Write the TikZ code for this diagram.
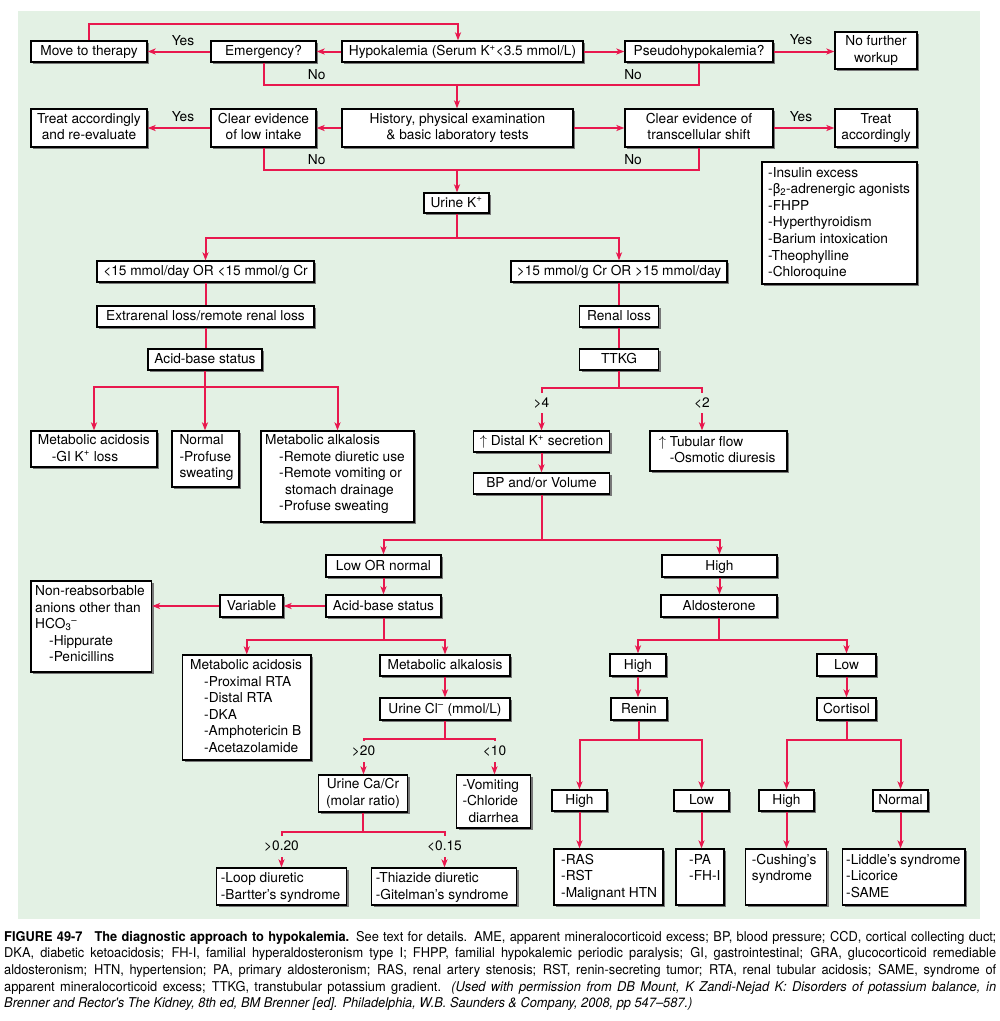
\documentclass[tikz,border=0pt]{standalone}
\usepackage{fontspec}
\setmainfont{TeX Gyre Heros}
\newfontfamily\capfont[FakeStretch=0.95]{TeX Gyre Heros}
\usetikzlibrary{arrows.meta,shadows,calc}
\definecolor{redl}{RGB}{232,24,78}
\definecolor{bgg}{RGB}{227,241,228}
\definecolor{shd}{RGB}{120,120,120}
\tikzset{
  box/.style={draw=black, line width=1.2pt, fill=white, inner sep=0pt,
    drop shadow={shadow xshift=2pt, shadow yshift=-2pt, fill=shd, opacity=1}},
  lbl/.style={inner sep=0pt, text height=10pt, text depth=2pt},
  lst/.style={inner sep=0pt, anchor=base west},
  con/.style={draw=redl, line width=2pt},
  arr/.style={con, -{Stealth[length=8pt,width=6pt,inset=2pt]}},
}
\newcommand\bx[7][]{\node[box,#1,minimum width={#5-#3},minimum height={#6-#4}] (#2) at ({(#3+#5)/2},{(#4+#6)/2}) {#7};}
\newcommand\ctab[1]{\raisebox{-1.5pt}{\begin{tabular}{@{}c@{}}#1\end{tabular}}}
\newcommand\ltab[1]{\begin{tabular}[t]{@{}l@{}}#1\end{tabular}}
\newcommand\ind{\hspace*{14pt}}
\begin{document}
\begin{tikzpicture}[x=1pt,y=-1pt,font=\fontsize{13.7}{16.6}\selectfont]
\useasboundingbox (0,0) rectangle (1000,1021);
\fill[bgg] (18,11) rectangle (980,919);
% row 1
\bx[lbl]{mt}{31}{41}{147}{62}{Move to therapy}
\bx[lbl]{em}{211}{41}{316}{62}{Emergency?}
\bx[lbl]{hk}{342}{41}{583}{62}{Hypokalemia (Serum K\textsuperscript{+}<3.5 mmol/L)}
\bx[lbl]{ps}{625}{41}{773}{62}{Pseudohypokalemia?}
\bx{nf}{835}{32}{917}{69}{\ctab{No further\\workup}}
% row 2
\bx{ta}{31}{109}{147}{147}{\ctab{Treat accordingly\\and re-evaluate}}
\bx{li}{211}{109}{316}{147}{\ctab{Clear evidence\\of low intake}}
\bx{hi}{342}{109}{573}{147}{\ctab{History, physical examination\\\& basic laboratory tests}}
\bx{ts}{625}{109}{773}{147}{\ctab{Clear evidence of\\transcellular shift}}
\bx{tr}{835}{109}{917}{147}{\ctab{Treat\\accordingly}}
\bx[lbl]{uk}{424}{193}{489}{213}{Urine K\textsuperscript{+}}
\bx{ins}{762}{162}{917}{284}{}
\node[lst] (inst) at (768,177) {\ltab{-Insulin excess\\-β\textsubscript{2}-adrenergic agonists\\-FHPP\\-Hyperthyroidism\\-Barium intoxication\\-Theophylline\\-Chloroquine}};
% left branch
\bx[lbl]{lt}{97}{261}{314}{282}{<15 mmol/day OR <15 mmol/g Cr}
\bx[lbl]{gt}{511}{261}{727}{282}{>15 mmol/g Cr OR >15 mmol/day}
\bx[lbl]{ex}{97}{306}{314}{327}{Extrarenal loss/remote renal loss}
\bx[lbl]{ab1}{148}{349}{262}{370}{Acid-base status}
\bx{ma1}{31}{431}{157}{467}{}
\node[lst] (ma1t) at (37.7,444.5) {\ltab{Metabolic acidosis\\\ind-GI K\textsuperscript{+} loss}};
\bx{nm}{172}{431}{239}{487}{}
\node[lst] (nmt) at (179.3,444.5) {\ltab{Normal\\-Profuse\\sweating}};
\bx{mk1}{261}{431}{414}{522}{}
\node[lst] (mk1t) at (265,444.5) {\ltab{Metabolic alkalosis\\\ind-Remote diuretic use\\\ind-Remote vomiting or\\\hspace*{20pt}stomach drainage\\\ind-Profuse sweating}};
% right branch
\bx[lbl]{rl}{579.5}{306}{658.5}{327}{Renal loss}
\bx[lbl]{tt}{579.5}{349}{658.5}{370}{TTKG}
\bx[lbl]{dk}{473.5}{431}{609.5}{452}{$\uparrow$ Distal K\textsuperscript{+} secretion}
\bx{tf}{650}{431}{787}{471}{}
\node[lst] (tft) at (658.7,446) {\ltab{$\uparrow$ Tubular flow\\\hspace*{11pt}-Osmotic diuresis}};
\bx[lbl]{bp}{473.5}{473}{609.5}{494}{BP and/or Volume}
% low or normal
\bx[lbl]{lo}{326}{555}{441}{577}{Low OR normal}
\bx[lbl]{ab2}{326}{595}{441}{617}{Acid-base status}
\bx[lbl]{va}{220}{595}{283}{617}{Variable}
\bx{nr}{31}{581}{151.5}{672}{}
\node[lst] (nrt) at (35,595.5) {\ltab{Non-reabsorbable\\anions other than\\HCO\textsubscript{3}\textsuperscript{–}\\\ind-Hippurate\\\ind-Penicillins}};
\bx{md}{182.5}{655}{311}{760}{}
\node[lst] (mdt) at (190,669.5) {\ltab{Metabolic acidosis\\\ind-Proximal RTA\\\ind-Distal RTA\\\ind-DKA\\\ind-Amphotericin B\\\ind-Acetazolamide}};
\bx[lbl]{mk2}{380}{655}{510}{676}{Metabolic alkalosis}
\bx[lbl]{uc}{380}{698}{510}{720}{Urine Cl\textsuperscript{–} (mmol/L)}
\bx{cc}{318.5}{775}{407.5}{812}{\ctab{Urine Ca/Cr\\(molar ratio)}}
\bx{vo}{456.5}{775}{530.5}{828}{}
\node[lst] (vot) at (462.3,789) {\ltab{-Vomiting\\-Chloride\\\hspace*{6pt}diarrhea}};
\bx{lp}{216.5}{868}{346.5}{905}{}
\node[lst] (lpt) at (220.7,882.5) {\ltab{-Loop diuretic\\-Bartter's syndrome}};
\bx{th}{371.5}{868}{516.5}{905}{}
\node[lst] (tht) at (375.7,882.5) {\ltab{-Thiazide diuretic\\-Gitelman's syndrome}};
% high
\bx[lbl]{h1}{662}{555}{777}{577}{High}
\bx[lbl]{al}{661}{595}{777}{617}{Aldosterone}
\bx[lbl]{h2}{610}{654}{666}{676}{High}
\bx[lbl]{lw}{817}{654}{876}{676}{Low}
\bx[lbl]{rn}{611}{698}{667}{720}{Renin}
\bx[lbl]{co}{817}{698}{876}{720}{Cortisol}
\bx[lbl]{h3}{552}{790}{607}{811}{High}
\bx[lbl]{l2}{674}{790}{729}{811}{Low}
\bx[lbl]{h4}{759}{790}{814}{811}{High}
\bx[lbl]{nl}{873}{790}{928}{811}{Normal}
\bx{ra}{554}{849}{663}{905}{}
\node[lst] (rat) at (561,864) {\ltab{-RAS\\-RST\\-Malignant HTN}};
\bx{pa}{676}{849}{724}{905}{}
\node[lst] (pat) at (689,864) {\ltab{-PA\\-FH-I}};
\bx{cu}{745.5}{849}{826.5}{905}{}
\node[lst] (cut) at (751.7,864) {\ltab{-Cushing's\\syndrome}};
\bx{ld}{842.5}{849}{965}{905}{}
\node[lst] (ldt) at (846,864) {\ltab{-Liddle's syndrome\\-Licorice\\-SAME}};
% labels
\node[lbl] (y1) at (183,41) {Yes};
\node[lbl] (y2) at (801,40) {Yes};
\node[lbl] (y3) at (183,117.3) {Yes};
\node[lbl] (y4) at (801,117.3) {Yes};
\node[lbl] (n1) at (316.7,75) {No};
\node[lbl] (n2) at (633,75) {No};
\node[lbl] (n3) at (316.7,160) {No};
\node[lbl] (n4) at (633,160) {No};
\node[lbl] (lg4) at (541.5,403) {>4};
\node[lbl] (ll2) at (702,403) {<2};
\node[lbl] (lg20) at (363.5,751) {>20};
\node[lbl] (ll10) at (494.5,751) {<10};
\node[lbl] (lg02) at (281.5,846) {>0.20};
\node[lbl] (ll015) at (444.5,846) {<0.15};
% connectors row 1
\draw[arr] (hk.west) -- (em.east);
\draw[arr] (em.west) -- (mt.east);
\draw[arr] (hk.east) -- (ps.west);
\draw[arr] (ps.east) -- (ps.east -| nf.west);
\coordinate (c1) at (458,24);
\draw[arr] (mt.north) |- (c1) -- (c1 |- hk.north);
\coordinate (c2) at (457,85);
\draw[con] (em.south) |- (c2) -| (ps.south);
\draw[arr] (c2) -- (c2 |- hi.north);
% row 2
\draw[arr] (hi.west) -- (li.east);
\draw[arr] (li.west) -- (ta.east);
\draw[arr] (hi.east) -- (ts.west);
\draw[arr] (ts.east) -- (tr.west);
\coordinate (c3) at (457,170);
\draw[con] (li.south) |- (c3) -| (ts.south);
\draw[arr] (c3) -- (c3 |- uk.north);
% urine K
\draw[con] (uk.south) -- ++(0,24) coordinate (c4);
\draw[arr] (c4) -| (lt.north);
\draw[arr] (c4) -| (gt.north);
\draw[con] (lt.south) -- (ex.north);
\draw[con] (ex.south) -- (ex.south |- ab1.north);
\draw[con] (ab1.south) -- ++(0,16) coordinate (c5);
\draw[arr] (c5) -| (ma1.north);
\draw[arr] (c5) -- (c5 |- nm.north);
\draw[arr] (c5) -| (mk1.north);
% renal
\draw[con] (gt.south) -- (rl.north);
\draw[con] (rl.south) -- (tt.north);
\draw[con] (tt.south) -- ++(0,17) coordinate (c6);
\coordinate (s4) at (541.5,393);
\coordinate (s2) at (702,393);
\draw[con] (s4) |- (c6) -| (s2);
\coordinate (a4) at (541.5,413);
\coordinate (a2) at (702,413);
\draw[arr] (a4) -- (a4 |- dk.north);
\draw[arr] (a2) -- (a2 |- tf.north);
\draw[arr] (dk.south) -- (bp.north);
\draw[con] (bp.south) -- ++(0,45) coordinate (c7);
\draw[arr] (c7) -| (lo.north);
\draw[arr] (c7) -| (h1.north);
% low or normal
\draw[arr] (lo.south) -- (ab2.north);
\draw[arr] (ab2.west) -- (va.east);
\draw[arr] (va.west) -- (va.west -| nr.east);
\draw[con] (ab2.south) -- ++(0,22) coordinate (c8);
\draw[arr] (c8) -| (md.north);
\draw[arr] (c8) -| (mk2.north);
\draw[arr] (mk2.south) -- (uc.north);
\draw[con] (uc.south) -- ++(0,18) coordinate (c9);
\coordinate (s20) at (363.5,741);
\coordinate (s10) at (494.5,741);
\draw[con] (s20) |- (c9) -| (s10);
\coordinate (a20) at (363.5,762);
\coordinate (a10) at (494.5,762);
\draw[arr] (a20) -- (a20 |- cc.north);
\draw[arr] (a10) -- (a10 |- vo.north);
\draw[con] (cc.south) -- ++(0,19) coordinate (c10);
\coordinate (s02) at (281.5,836);
\coordinate (s15) at (444.5,836);
\draw[con] (s02) |- (c10) -| (s15);
\coordinate (a02) at (281.5,857);
\coordinate (a15) at (444.5,857);
\draw[arr] (a02) -- (a02 |- lp.north);
\draw[arr] (a15) -- (a15 |- th.north);
% high
\draw[arr] (h1.south) -- (h1.south |- al.north);
\draw[con] (al.south) -- ++(0,22) coordinate (c11);
\draw[arr] (c11) -| (h2.north);
\draw[arr] (c11) -| (lw.north);
\draw[arr] (h2.south) -- (h2.south |- rn.north);
\draw[arr] (lw.south) -- (co.north);
\draw[con] (rn.south) -- ++(0,19) coordinate (c12);
\draw[arr] (c12) -| (h3.north);
\draw[arr] (c12) -| (l2.north);
\draw[con] (co.south) -- ++(0,19) coordinate (c13);
\draw[arr] (c13) -| (h4.north);
\draw[arr] (c13) -| (nl.north);
\draw[arr] (h3.south) -- (h3.south |- ra.north);
\draw[arr] (l2.south) -- (l2.south |- pa.north);
\draw[arr] (h4.south) -- (h4.south |- cu.north);
\draw[arr] (nl.south) -- (nl.south |- ld.north);
% caption
\node[lst] (cap) at (4,941) {\capfont\fontsize{13.5}{16.7}\selectfont\ltab{%
\makebox[992pt][s]{\bfseries FIGURE 49-7\hspace{12pt}The diagnostic approach to hypokalemia.\mdseries{} See text for details. AME, apparent mineralocorticoid excess; BP, blood pressure; CCD, cortical collecting duct;}\\
\makebox[992pt][s]{DKA, diabetic ketoacidosis; FH-I, familial hyperaldosteronism type I; FHPP, familial hypokalemic periodic paralysis; GI, gastrointestinal; GRA, glucocorticoid remediable}\\
\makebox[992pt][s]{aldosteronism; HTN, hypertension; PA, primary aldosteronism; RAS, renal artery stenosis; RST, renin-secreting tumor; RTA, renal tubular acidosis; SAME, syndrome of}\\
\makebox[992pt][s]{apparent mineralocorticoid excess; TTKG, transtubular potassium gradient. \itshape (Used with permission from DB Mount, K Zandi-Nejad K: Disorders of potassium balance, in}\\
\itshape Brenner and Rector's The Kidney, 8th ed, BM Brenner [ed]. Philadelphia, W.B. Saunders \& Company, 2008, pp 547–587.)}};
\end{tikzpicture}
\end{document}
